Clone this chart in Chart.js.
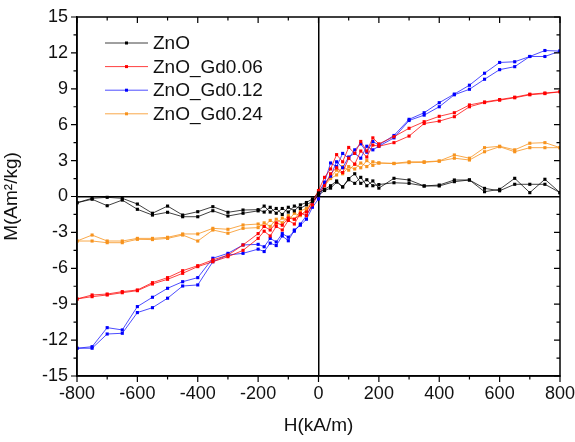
<!DOCTYPE html>
<html>
<head>
<meta charset="utf-8">
<script src="https://cdn.jsdelivr.net/npm/chart.js@4.4.0/dist/chart.umd.min.js"></script>
<style>
  html, body { margin: 0; padding: 0; background: #fff; }
  #wrap { width: 575px; height: 442px; }
</style>
</head>
<body>
<div id="wrap"><canvas id="loop-chart"></canvas></div>
<script>
// field sweep, +800 down to -800 and back up
const H_DOWN = [800,750,700,650,600,550,500,450,400,350,300,250,
  200,180,160,140,120,100,80,60,40,20,0,-20,-40,-60,-80,-100,-120,-140,-160,-180,-200,
  -250,-300,-350,-400,-450,-500,-550,-600,-650,-700,-750,-800];
const H_UP = [-800,-750,-700,-650,-600,-550,-500,-450,-400,-350,-300,-250,
  -200,-180,-160,-140,-120,-100,-80,-60,-40,-20,0,20,40,60,80,100,120,140,160,180,200,
  250,300,350,400,450,500,550,600,650,700,750,800];

const SERIES_NAMES = ['ZnO', 'ZnO_Gd0.06', 'ZnO_Gd0.12', 'ZnO_Gd0.24'];

// magnetisation M (Am2/kg)
const znoDown = [0.32,1.44,0.32,1.52,0.6,0.4,1.38,1.38,0.96,0.88,1.38,1.52,
  0.7,1.3,0.9,1.6,1.1,1.4,0.8,1.2,0.7,0.5,0.1,-0.4,-0.7,-1.0,-0.8,-1.3,-1.0,-1.4,-0.9,-1.3,-1.1,
  -1.13,-1.32,-0.85,-1.27,-1.55,-0.8,-1.4,-0.63,-0.15,-0.07,-0.15,-0.52];
const znoUp = [-0.52,-0.23,-0.77,-0.3,-1.07,-1.55,-1.32,-1.69,-1.69,-1.19,-1.63,-1.4,
  -1.2,-0.8,-1.3,-1.0,-1.5,-0.9,-1.2,-0.7,-0.5,-0.2,0.3,0.6,0.9,1.3,0.8,1.5,1.9,1.1,1.4,0.9,1.0,
  1.15,1.1,0.88,0.88,1.24,1.38,0.68,0.48,1.02,1.02,1.02,0.32];

const gd006Down = [8.75,8.65,8.55,8.3,8.1,7.9,7.65,7.0,6.7,6.25,5.7,5.0,
  4.4,4.9,3.8,4.6,3.6,4.1,2.9,3.5,2.3,1.6,0.5,-0.4,-1.3,-1.5,-1.9,-1.8,-2.4,-2.2,-2.8,-2.5,-3.1,
  -4.05,-4.9,-5.3,-5.78,-6.2,-6.78,-7.2,-7.81,-7.95,-8.15,-8.23,-8.56];
const gd006Up = [-8.56,-8.37,-8.23,-8.04,-7.87,-7.31,-6.92,-6.42,-5.86,-5.45,-5.03,-4.5,
  -3.5,-2.9,-3.3,-2.5,-2.8,-2.0,-2.3,-1.4,-1.6,-0.7,0.2,0.9,1.9,2.4,2.0,3.2,2.7,3.8,3.3,4.3,4.2,
  4.5,5.05,6.1,6.3,6.67,7.5,7.85,8.05,8.25,8.5,8.6,8.75];

const gd012Down = [12.15,12.2,11.7,11.26,11.2,10.3,9.3,8.56,7.84,7.0,6.45,5.1,
  4.3,4.6,3.7,4.4,3.9,3.2,3.6,2.5,2.8,1.2,0.3,-0.6,-1.6,-2.3,-2.9,-3.4,-3.1,-3.8,-3.5,-4.2,-4.0,
  -4.05,-4.75,-5.16,-6.78,-7.12,-7.67,-8.42,-9.2,-11.15,-10.96,-12.55,-12.68];
const gd012Up = [-12.68,-12.68,-11.49,-11.43,-9.7,-9.29,-8.5,-7.48,-7.39,-5.45,-4.89,-4.75,
  -4.4,-4.6,-3.9,-4.1,-3.3,-3.7,-2.8,-2.4,-1.9,-0.9,-0.2,1.1,1.7,2.9,2.4,3.3,3.6,3.2,4.2,3.9,4.2,
  4.9,6.35,6.8,7.5,8.5,8.96,9.8,10.6,10.85,11.7,11.7,12.15];

const gd024Down = [4.08,4.5,4.45,3.9,4.2,4.08,3.2,3.47,2.97,2.9,2.9,2.77,
  2.8,2.6,3.0,2.4,2.7,2.2,2.5,1.8,1.5,0.9,0.2,-0.5,-1.1,-1.6,-1.4,-2.0,-1.8,-2.3,-2.0,-2.5,-2.3,
  -2.38,-2.74,-2.66,-3.13,-3.13,-3.41,-3.5,-3.5,-3.72,-3.72,-3.22,-3.72];
const gd024Up = [-3.72,-3.72,-3.86,-3.86,-3.58,-3.6,-3.5,-3.22,-3.72,-2.8,-3.07,-2.66,
  -2.6,-2.2,-2.5,-1.9,-2.2,-1.6,-1.9,-1.2,-1.0,-0.4,0.4,1.0,1.6,2.2,1.9,2.5,2.3,2.8,2.5,2.9,2.8,
  2.75,2.83,2.85,2.95,3.2,3.05,3.74,4.16,3.74,4.08,4.08,4.08];

const colors = ['#000000', '#ff0000', '#0000ff', '#f7931e'];
const lineColors = ['rgba(0,0,0,0.75)', 'rgba(255,0,0,0.75)', 'rgba(0,0,255,0.7)', 'rgba(247,147,30,0.8)'];

const FONT = '"Liberation Sans", Arial, sans-serif';

// join both sweeps into one loop of {x, y}
function loop(down, up) {
  const pts = down.map((m, i) => ({ x: H_DOWN[i], y: m }));
  return pts.concat(up.map((m, i) => ({ x: H_UP[i], y: m })));
}

const loops = [
  loop(znoDown, znoUp),
  loop(gd006Down, gd006Up),
  loop(gd012Down, gd012Up),
  loop(gd024Down, gd024Up)
];

// box, and the major/minor ticks (outside on left/bottom, inside on top/right)
const framePlugin = {
  id: 'frame',
  afterDraw(chart) {
    const { ctx, chartArea: a, scales: { x, y } } = chart;
    ctx.save();
    ctx.strokeStyle = '#000';
    ctx.lineWidth = 1.5;
    ctx.strokeRect(a.left, a.top, a.right - a.left, a.bottom - a.top);
    ctx.lineWidth = 1.2;
    ctx.beginPath();
    x.ticks.forEach(t => {
      const px = x.getPixelForValue(t.value);
      ctx.moveTo(px, a.bottom); ctx.lineTo(px, a.bottom + 6);
      ctx.moveTo(px, a.top); ctx.lineTo(px, a.top + 6);
      const mid = x.getPixelForValue(t.value + 100);
      if (t.value < 800) {
        ctx.moveTo(mid, a.bottom); ctx.lineTo(mid, a.bottom + 3.5);
        ctx.moveTo(mid, a.top); ctx.lineTo(mid, a.top + 3.5);
      }
    });
    y.ticks.forEach(t => {
      const py = y.getPixelForValue(t.value);
      ctx.moveTo(a.left, py); ctx.lineTo(a.left - 6, py);
      ctx.moveTo(a.right, py); ctx.lineTo(a.right - 6, py);
      const mid = y.getPixelForValue(t.value + 1.5);
      if (t.value < 15) {
        ctx.moveTo(a.left, mid); ctx.lineTo(a.left - 3.5, mid);
        ctx.moveTo(a.right, mid); ctx.lineTo(a.right - 3.5, mid);
      }
    });
    ctx.stroke();
    ctx.restore();
  }
};

// legend sits inside the plot, top left
const legendPlugin = {
  id: 'insideLegend',
  afterDatasetsDraw(chart) {
    const { ctx, chartArea: a } = chart;
    ctx.save();
    ctx.font = '19px ' + FONT;
    ctx.textBaseline = 'middle';
    chart.data.datasets.forEach((ds, i) => {
      const yy = a.top + 26 + i * 23.6;
      const x0 = a.left + 28, x1 = a.left + 71;
      ctx.strokeStyle = lineColors[i];
      ctx.lineWidth = 1;
      ctx.beginPath(); ctx.moveTo(x0, yy); ctx.lineTo(x1, yy); ctx.stroke();
      ctx.fillStyle = colors[i];
      ctx.fillRect((x0 + x1) / 2 - 1.5, yy - 1.5, 3, 3);
      ctx.fillStyle = '#111';
      ctx.fillText(ds.label, a.left + 76, yy + 1);
    });
    ctx.restore();
  }
};

new Chart(document.querySelector('#loop-chart').getContext('2d'), {
  type: 'scatter',
  data: {
    datasets: loops.map((pts, i) => ({
      label: SERIES_NAMES[i],
      data: pts,
      showLine: true,
      borderColor: lineColors[i],
      borderWidth: 1,
      backgroundColor: colors[i],
      pointBackgroundColor: colors[i],
      pointBorderWidth: 0,
      pointStyle: 'rect',
      pointRadius: 2.2,
      tension: 0
    }))
  },
  options: {
    responsive: true,
    maintainAspectRatio: false,
    animation: false,
    layout: { padding: { top: 17, right: 15, left: 0, bottom: 0 } },
    plugins: {
      legend: { display: false },
      tooltip: { enabled: false }
    },
    scales: {
      x: {
        type: 'linear',
        min: -800, max: 800,
        afterFit(scale) { scale.height = 66; scale.paddingLeft = 0; scale.paddingRight = 0; },
        ticks: { stepSize: 200, color: '#111', font: { family: FONT, size: 18 }, padding: 7, maxRotation: 0 },
        grid: {
          drawTicks: false,
          lineWidth: 1.5,
          color: c => (c.tick && c.tick.value === 0 ? '#000' : 'rgba(0,0,0,0)')
        },
        border: { display: true, color: '#000', width: 1.5 },
        title: { display: true, text: 'H(kA/m)', color: '#111', font: { family: FONT, size: 19 }, padding: { top: 4, bottom: 5 } }
      },
      y: {
        type: 'linear',
        min: -15, max: 15,
        afterFit(scale) { scale.width = 77; scale.paddingTop = 0; scale.paddingBottom = 0; },
        ticks: { stepSize: 3, color: '#111', font: { family: FONT, size: 18 }, padding: 9 },
        grid: {
          drawTicks: false,
          lineWidth: 1.5,
          color: c => (c.tick && c.tick.value === 0 ? '#000' : 'rgba(0,0,0,0)')
        },
        border: { display: true, color: '#000', width: 1.5 },
        title: { display: true, text: 'M(Am²/kg)', color: '#111', font: { family: FONT, size: 19 }, padding: { top: 0, bottom: 0 } }
      }
    }
  },
  plugins: [framePlugin, legendPlugin]
});
</script>
</body>
</html>
